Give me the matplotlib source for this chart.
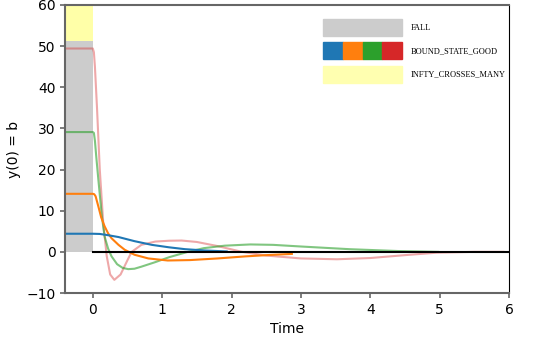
import matplotlib
matplotlib.use("Agg")
import matplotlib.pyplot as plt
from matplotlib.patches import Patch
from matplotlib.legend_handler import HandlerTuple

# values
t_blue = [-0.4, 0, 0.1, 0.2, 0.37, 0.6, 0.85, 1.1, 1.33, 1.6, 1.93]
y_blue = [4.4, 4.4, 4.35, 4.1, 3.6, 2.6, 1.7, 1.1, 0.65, 0.35, 0.1]

t_orange = [-0.4, 0, 0.02, 0.04, 0.08, 0.12, 0.17, 0.22, 0.27, 0.37, 0.46, 0.6, 0.8,
            1.08, 1.4, 1.8, 2.2, 2.5, 2.87]
y_orange = [14.1, 14.1, 14.0, 13.5, 11.0, 8.4, 6.2, 4.5, 3.3, 1.7, 0.5, -0.7, -1.6,
            -2.1, -2.0, -1.6, -1.1, -0.8, -0.5]

t_green = [-0.4, 0, 0.015, 0.03, 0.05, 0.08, 0.13, 0.17, 0.22, 0.27, 0.35, 0.43, 0.51,
           0.6, 0.7, 0.9, 1.1, 1.37, 1.6, 1.9, 2.27, 2.6, 3.0, 3.7, 4.4, 4.98]
y_green = [29.1, 29.1, 28.9, 27.0, 23.0, 17.5, 8.6, 3.7, 0.8, -1.1, -3.0, -3.9, -4.2,
           -4.1, -3.6, -2.5, -1.3, 0.0, 0.9, 1.5, 1.8, 1.7, 1.3, 0.65, 0.2, 0.0]

t_red = [-0.4, 0, 0.015, 0.03, 0.06, 0.1, 0.15, 0.2, 0.25, 0.31, 0.4, 0.5, 0.56, 0.7,
         0.9, 1.1, 1.28, 1.5, 1.8, 2.15, 2.5, 3.0, 3.52, 4.0, 4.5, 4.96, 5.5, 5.92]
y_red = [49.4, 49.4, 48.5, 45.0, 35.0, 20.0, 7.0, -1.0, -5.5, -6.8, -5.5, -2.0, 0.0, 1.7,
         2.5, 2.7, 2.75, 2.4, 1.4, 0.0, -0.9, -1.6, -1.8, -1.5, -0.8, -0.2, 0.0, 0.0]

fall_top = 51.3
x_ticks = [0, 1, 2, 3, 4, 5, 6]
y_ticks = [-10, 0, 10, 20, 30, 40, 50, 60]

fig = plt.figure(figsize=(5.38, 3.48), dpi=100)
ax = fig.add_axes([0.121, 0.158, 0.825, 0.828])

ax.fill_between([-0.4, 0], 0, fall_top, color="#cccccc", lw=0, zorder=0)
ax.fill_between([-0.4, 0], fall_top, 60, color="#ffffa8", lw=0, zorder=0)

ax.plot(t_red, y_red, color="tab:red", alpha=0.4, lw=1.5)
ax.plot(t_green, y_green, color="tab:green", alpha=0.6, lw=1.5)
ax.plot(t_orange, y_orange, color="tab:orange", lw=1.5)
ax.plot(t_blue, y_blue, color="tab:blue", lw=1.5)
ax.plot([0, 6], [0, 0], color="black", lw=1.5, zorder=5)

ax.set_xlim(-0.4, 6)
ax.set_ylim(-10, 60)
ax.set_xticks(x_ticks)
ax.set_yticks(y_ticks)
ax.set_xlabel("Time")
ax.set_ylabel("y(0) = b")

for side in ["left", "bottom", "top"]:
    ax.spines[side].set_color("0.4")
    ax.spines[side].set_linewidth(1.5)
ax.spines["right"].set_color("black")
ax.tick_params(color="0.4", width=1.2)

handles = [
    Patch(color="#cccccc"),
    (Patch(color="tab:blue"), Patch(color="tab:orange"),
     Patch(color="tab:green"), Patch(color="tab:red")),
    Patch(color="#ffffb0"),
]
labels = ["FALL", "BOUND_STATE_GOOD", "INFTY_CROSSES_MANY"]
fig.legend(handles, labels, loc="upper left",
           bbox_to_anchor=(323 / 538, 1 - 19 / 348),
           frameon=False, borderpad=0, borderaxespad=0,
           handlelength=9.5, handleheight=2.76, labelspacing=0.76,
           handletextpad=1.0,
           prop={"family": "Liberation Serif", "size": 6},
           handler_map={tuple: HandlerTuple(ndivide=None, pad=0)})

fig.savefig("out.png", dpi=100)
